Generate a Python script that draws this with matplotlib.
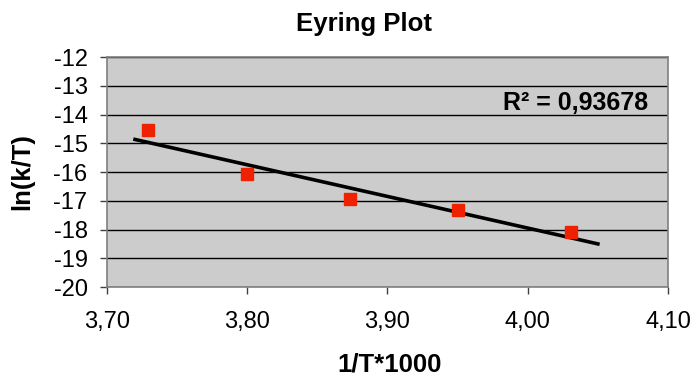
import numpy as np
import matplotlib
matplotlib.use("Agg")
import matplotlib.pyplot as plt

plt.rcParams['font.family'] = ['Liberation Sans', 'DejaVu Sans']

# data
inv_T = [3.729, 3.800, 3.873, 3.950, 4.031]
ln_kT = [-14.54, -16.07, -16.94, -17.32, -18.09]
trend_range = [3.72, 4.05]
x_ticks = [3.70, 3.80, 3.90, 4.00, 4.10]
x_labels = ['3,70', '3,80', '3,90', '4,00', '4,10']
y_ticks = [-12, -13, -14, -15, -16, -17, -18, -19, -20]
r2_text = 'R² = 0,93678'

fig = plt.figure(figsize=(6.97, 3.76), dpi=100)
ax = fig.add_axes([0.1535, 0.2367, 0.8049, 0.6117])
ax.set_facecolor('#cccccc')

# linear trend line
slope, icpt = np.polyfit(inv_T, ln_kT, 1)
tx = np.array(trend_range)
ax.plot(tx, slope * tx + icpt, color='black', lw=2.6, zorder=3)

ax.plot(inv_T, ln_kT, ls='none', marker='s', ms=8.5, color='#ee2200',
        mec='#ee2200', zorder=4)

ax.set_xlim(3.70, 4.10)
ax.set_ylim(-20, -12)
ax.set_xticks(x_ticks)
ax.set_xticklabels(x_labels)
ax.set_yticks(y_ticks)
ax.set_yticklabels([str(v) for v in y_ticks])
ax.yaxis.grid(True, color='black', lw=1)
ax.set_axisbelow(True)

for s in ax.spines.values():
    s.set_color('#808080')
    s.set_linewidth(1.2)
ax.tick_params(axis='both', direction='out', length=5, width=1, color='#404040',
               labelsize=17)
ax.tick_params(axis='x', pad=12)
ax.tick_params(axis='y', pad=9)

ax.text(0.965, 0.80, r2_text, transform=ax.transAxes, ha='right', va='center',
        fontsize=18, fontweight='bold', zorder=5)

fig.text(364 / 697, 1 - 24 / 376, 'Eyring Plot', ha='center', va='center',
         fontsize=18.5, fontweight='bold')
fig.text(390 / 697, 1 - 364 / 376, '1/T*1000', ha='center', va='center',
         fontsize=18.5, fontweight='bold')
fig.text(22 / 697, 1 - 172 / 376, 'ln(k/T)', ha='center', va='center',
         rotation=90, fontsize=18.5, fontweight='bold')

fig.savefig('out.png', dpi=100)
